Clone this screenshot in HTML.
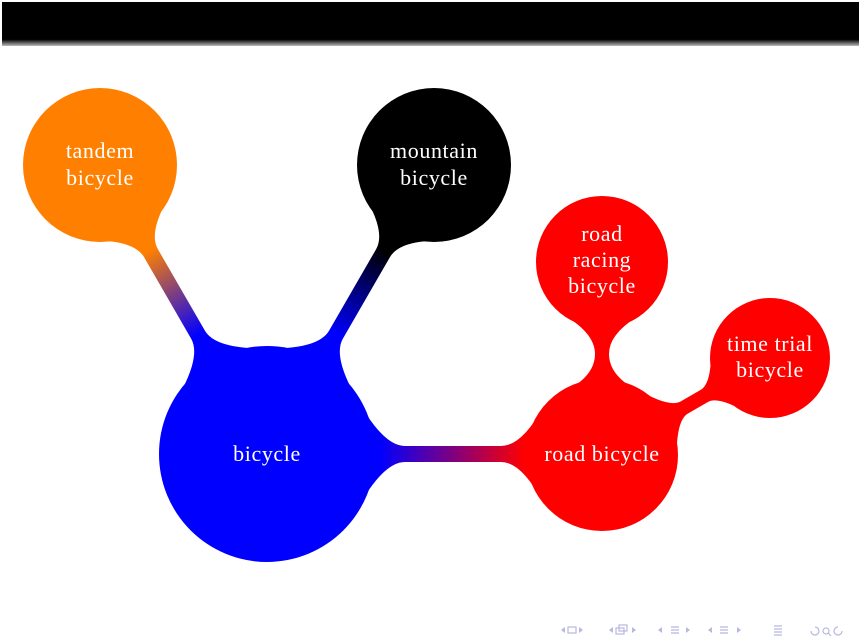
<!DOCTYPE html>
<html><head><meta charset="utf-8"><style>
html,body{margin:0;padding:0;background:#fff;}
svg{display:block;}
text{font-family:"Liberation Serif",serif;fill:#fff;font-size:22px;letter-spacing:0.6px;text-anchor:middle;}
</style></head><body>
<svg width="859" height="638" viewBox="0 0 859 638" xmlns="http://www.w3.org/2000/svg">
<defs>
<linearGradient id="bar" x1="0" y1="0" x2="0" y2="1">
<stop offset="0" stop-color="#000"/><stop offset="0.85" stop-color="#000"/><stop offset="1" stop-color="#bbb"/></linearGradient>
<linearGradient id="g1" gradientUnits="userSpaceOnUse" x1="198" y1="335" x2="150" y2="250">
<stop offset="0" stop-color="#0000ff"/><stop offset="1" stop-color="#ff8000"/></linearGradient>
<linearGradient id="g2" gradientUnits="userSpaceOnUse" x1="336" y1="335" x2="384" y2="250">
<stop offset="0" stop-color="#0000ff"/><stop offset="1" stop-color="#000"/></linearGradient>
<linearGradient id="g3" gradientUnits="userSpaceOnUse" x1="380" y1="0" x2="525" y2="0">
<stop offset="0" stop-color="#0000ff"/><stop offset="1" stop-color="#ff0000"/></linearGradient>
</defs>
<rect x="2" y="2" width="857" height="44" fill="url(#bar)"/>
<path fill="url(#g1)" d="M285.7,347.6 Q217.4,352.3 204.9,330.6 L157.9,249.2 Q147.4,231.1 172.3,191.3 L86.7,240.8 Q133.6,239.1 144.1,257.2 L191.1,338.6 Q203.6,360.3 165.6,417.2 Z"/>
<path fill="url(#g2)" d="M248.3,347.6 Q316.6,352.3 329.1,330.6 L376.1,249.2 Q386.6,231.1 361.7,191.3 L447.3,240.8 Q400.4,239.1 389.9,257.2 L342.9,338.6 Q330.4,360.3 368.4,417.2 Z"/>
<path fill="url(#g3)" d="M349.7,384.6 Q380,446 405,446 L501,446 Q522,446 543.8,406 L543.8,504 Q522,462 501,462 L405,462 Q380,462 349.7,523.4 Z"/>
<path fill="#f00" d="M650.9,396.8 Q609,380 609,354 Q609,332 644.4,312.6 L559.6,312.6 Q595,332 595,354 Q595,380 553.1,396.8 Z"/>
<path fill="#f00" d="M676.9,468.2 Q674.8,421.1 687.8,413.6 L707.7,402.1 Q718.9,395.6 749.5,414.4 L710.9,347.6 Q711.9,383.4 700.7,389.9 L680.8,401.4 Q667.8,408.9 627.9,383.6 Z"/>
<circle cx="267" cy="454" r="108" fill="#0000ff"/>
<circle cx="100" cy="165" r="77" fill="#ff8000"/>
<circle cx="434" cy="165" r="77" fill="#000"/>
<circle cx="602" cy="455" r="76" fill="#f00"/>
<circle cx="602" cy="262" r="66" fill="#f00"/>
<circle cx="770" cy="358" r="60" fill="#f00"/>
<text x="267" y="461">bicycle</text>
<text x="100" y="158">tandem</text><text x="100" y="185">bicycle</text>
<text x="434" y="158">mountain</text><text x="434" y="185">bicycle</text>
<text x="602" y="461">road bicycle</text>
<text x="602" y="241">road</text><text x="602" y="267">racing</text><text x="602" y="293">bicycle</text>
<text x="770" y="351">time trial</text><text x="770" y="377">bicycle</text>
<g fill="none" stroke="#b8b8e0" stroke-width="1.2">
<rect x="568" y="627" width="8" height="6"/>
<rect x="616" y="628" width="8" height="6"/><rect x="619" y="625" width="8" height="6"/>
<path d="M671 627h8M671 630h8M671 633h8M720 627h8M720 630h8M720 633h8M774 626h8M774 629h8M774 632h8M774 635h8"/>
<circle cx="826" cy="631" r="3"/><path d="M828 633l3 3"/>
<path d="M811 631a4 4 0 1 0 4-4M842 631a4 4 0 1 1-4-4"/>
</g>
<g fill="#b8b8e0">
<path d="M561 630l4-3v6zM583 630l-4-3v6zM609 630l4-3v6zM636 630l-4-3v6zM658 630l4-3v6zM690 630l-4-3v6zM708 630l4-3v6zM741 630l-4-3v6z"/>
</g>
</svg>
</body></html>
